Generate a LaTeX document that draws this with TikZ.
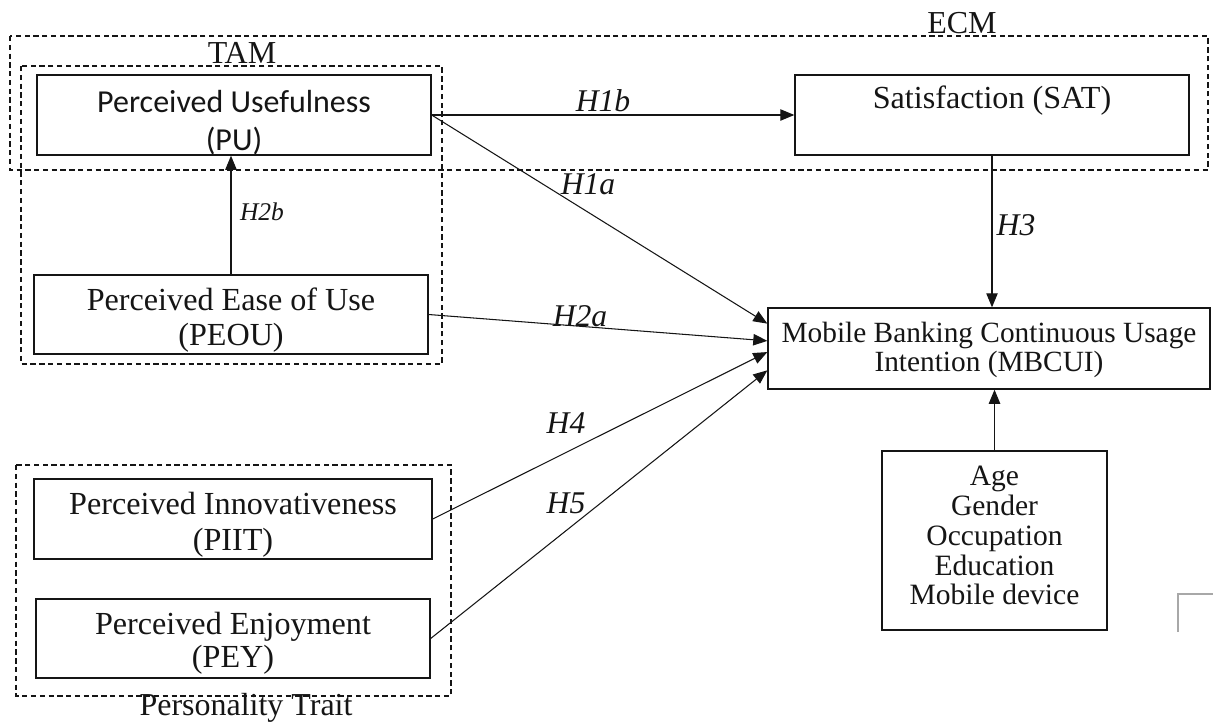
\documentclass[tikz,border=0pt]{standalone}
\usepackage{fontspec}
\setmainfont{Liberation Serif}
\newfontfamily\pufont{Carlito}
\usetikzlibrary{arrows.meta}
\usetikzlibrary{calc}
\definecolor{cmink}{HTML}{151515}
\definecolor{cmfaint}{HTML}{A8A8A8}
\tikzset{
  cmbox/.style={
    draw=cmink, line width=0.8pt, inner sep=0pt, align=center,
    text=cmink, font=\fontsize{18.3}{20}\selectfont},
  cmgroup/.style={
    draw=cmink, line width=0.6pt, dash pattern=on 3pt off 2pt},
  cmarrow/.style={
    -{Triangle[length=8pt, width=6.5pt]}, draw=cmink, line width=0.6pt},
  cmhyp/.style={font=\fontsize{18}{18}\selectfont\itshape, text=cmink},
  cmtitle/.style={font=\fontsize{18.2}{18.2}\selectfont, text=cmink},
}

\begin{document}
\begin{tikzpicture}[x=0.02cm, y=-0.02cm]
\useasboundingbox (0, 0) rectangle (1213, 721);

% Model groups.
\draw[cmgroup] (10, 36) rectangle (1208, 170);
\node[cmtitle] (ecmlabel) at (962, 23) {ECM};
\draw[cmgroup] (21, 66) rectangle (442, 364);
\node[cmtitle] (tamlabel) at (242, 53) {TAM};
\draw[cmgroup] (16, 465) rectangle (451, 696);
\node[cmtitle] (ptlabel) at (246, 708) {Personality Trait};

% Constructs (the struts drop the text a little, as in the source).
\node[cmbox, minimum width=7.88cm, minimum height=1.6cm,
      font=\pufont\fontsize{18.2}{21.6}\selectfont]
  (pu) at (234, 115) {\rule{0pt}{21pt}Perceived Usefulness\\(PU)};
\node[cmbox, minimum width=7.88cm, minimum height=1.6cm]
  (sat) at (992, 115) {Satisfaction (SAT)\\ \mbox{}};
\node[cmbox, minimum width=7.88cm, minimum height=1.58cm]
  (peou) at (231, 314.5) {\rule{0pt}{19.3pt}Perceived Ease of Use\\(PEOU)};
\node[cmbox, minimum width=8.84cm, minimum height=1.62cm,
      font=\fontsize{16.7}{16.5}\selectfont]
  (mbcui) at (989, 348.5)
  {\rule{0pt}{13.7pt}Mobile Banking Continuous Usage\\Intention (MBCUI)};
\node[cmbox, minimum width=4.5cm, minimum height=3.58cm,
      font=\fontsize{16.8}{17}\selectfont]
  (demo) at (994.5, 540.5)
  {Age\\Gender\\Occupation\\Education\\
   Mobile device\rule[-5.7pt]{0pt}{5.7pt}};
\node[cmbox, minimum width=7.96cm, minimum height=1.6cm]
  (piit) at (233, 519)
  {\rule{0pt}{19.3pt}Perceived Innovativeness\\(PIIT)};
\node[cmbox, minimum width=7.88cm, minimum height=1.58cm,
      font=\fontsize{18.3}{19}\selectfont]
  (pey) at (233, 638.5) {\rule{0pt}{18.2pt}Perceived Enjoyment\\(PEY)};

% Hypothesised paths.
\draw[cmarrow] (pu.east) -- (sat.west);
\draw[cmarrow] (pu.east) --
  ($(mbcui.north west)!0.198!(mbcui.south west)$);
\draw[cmarrow] (peou.north) -- (peou.north |- pu.south);
\draw[cmarrow] (peou.east) --
  ($(mbcui.north west)!0.407!(mbcui.south west)$);
\draw[cmarrow] (sat.south) -- (sat.south |- mbcui.north);
\draw[cmarrow] (piit.east) --
  ($(mbcui.north west)!0.543!(mbcui.south west)$);
\draw[cmarrow] (pey.east) --
  ($(mbcui.north west)!0.765!(mbcui.south west)$);
\draw[cmarrow] (demo.north) -- (demo.north |- mbcui.south);

\node[cmhyp] (h1b) at (603, 101) {H1b};
\node[cmhyp] (h1a) at (588, 184) {H1a};
\node[cmhyp, font=\fontsize{14.5}{14.5}\selectfont\itshape]
  (h2b) at (262, 212) {H2b};
\node[cmhyp] (h2a) at (580, 316) {H2a};
\node[cmhyp] (h3) at (1016, 225) {H3};
\node[cmhyp] (h4) at (566, 423) {H4};
\node[cmhyp] (h5) at (566, 503) {H5};

% Stray corner mark at the right edge.
\draw[cmfaint, line width=0.6pt] (1178, 632) -- (1178, 594) -- (1213, 594);

\end{tikzpicture}
\end{document}
